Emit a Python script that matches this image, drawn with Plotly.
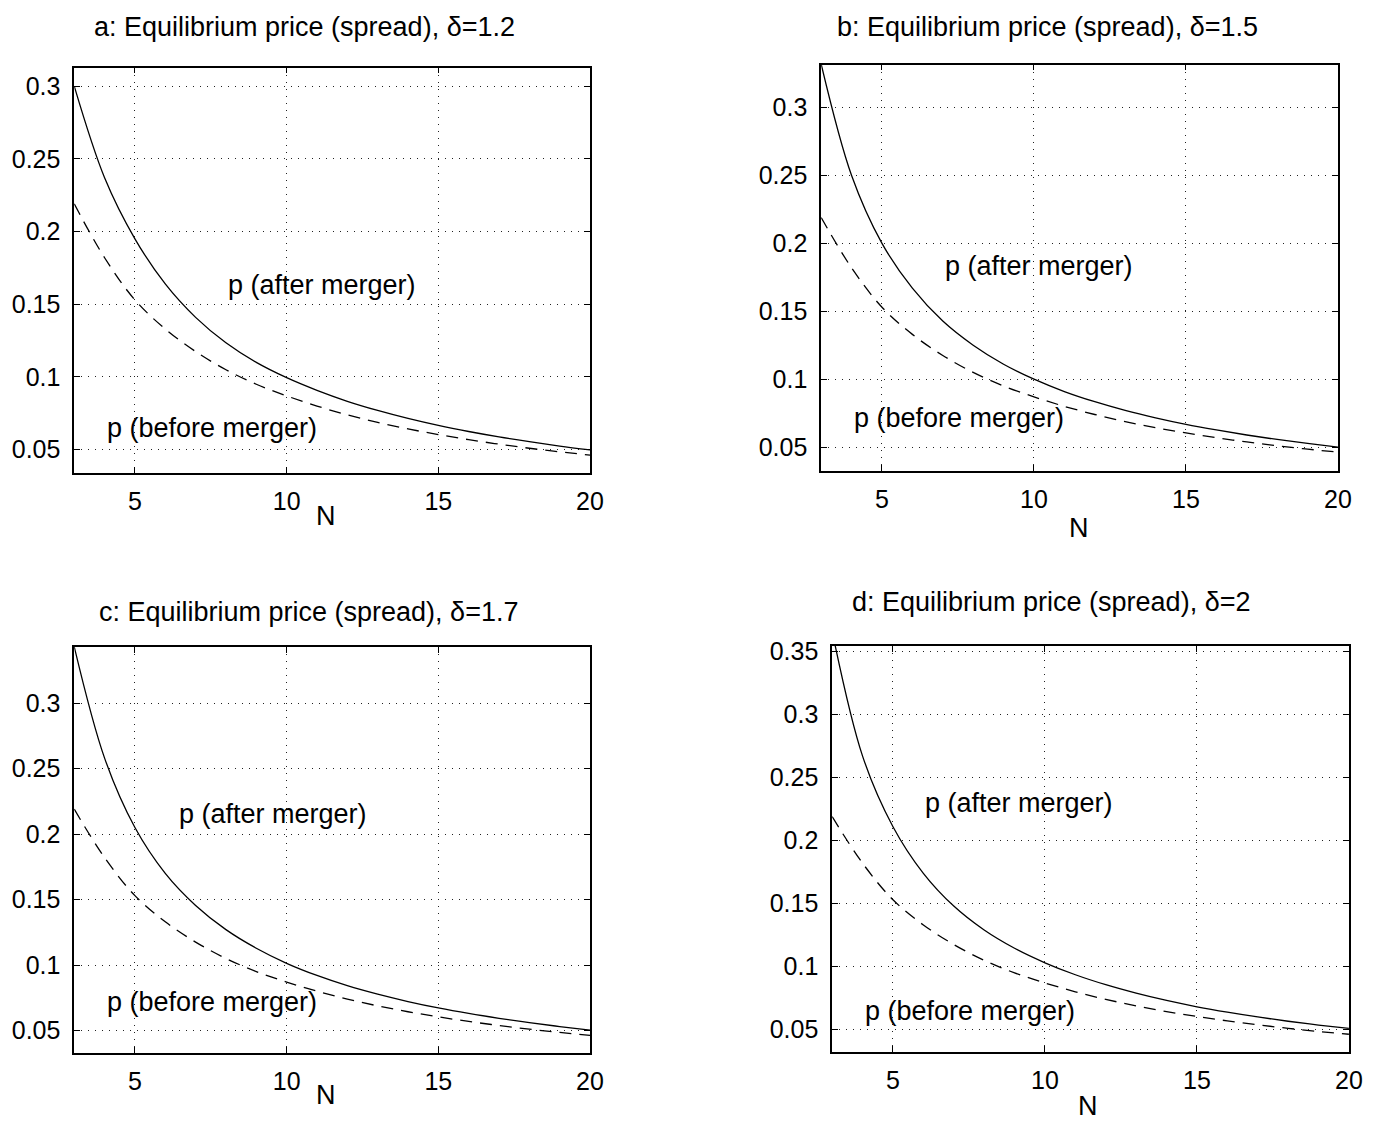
import plotly.graph_objects as go

# ---- data ----
N = [3, 4, 5, 6, 7, 8, 9, 10, 11, 12, 13, 14, 15, 16, 17, 18, 19, 20]

p_before = [0.219, 0.182, 0.153, 0.133, 0.1175, 0.105, 0.095, 0.087, 0.0800,
            0.0740, 0.0688, 0.0643, 0.0604, 0.0569, 0.0538, 0.0510, 0.0485, 0.0463]

p_after_a = [0.300, 0.237, 0.195, 0.164, 0.141, 0.1235, 0.110, 0.0995, 0.0908,
             0.0833, 0.0770, 0.0715, 0.0667, 0.0625, 0.0588, 0.0555, 0.0525, 0.0498]
p_after_b = [0.332, 0.250, 0.200, 0.167, 0.1428, 0.125, 0.111, 0.1000, 0.0909,
             0.0834, 0.0770, 0.0715, 0.0667, 0.0626, 0.0589, 0.0556, 0.0527, 0.0500]
p_after_c = [0.343, 0.258, 0.205, 0.170, 0.1455, 0.127, 0.1128, 0.1013, 0.0920,
             0.0842, 0.0777, 0.0721, 0.0672, 0.0630, 0.0593, 0.0560, 0.0530, 0.0503]
p_after_d = [0.366, 0.267, 0.211, 0.174, 0.148, 0.129, 0.1145, 0.1030, 0.0935,
             0.0856, 0.0789, 0.0731, 0.0681, 0.0638, 0.0600, 0.0566, 0.0536, 0.0509]

titles = ["a: Equilibrium price (spread), \u03b4=1.2",
          "b: Equilibrium price (spread), \u03b4=1.5",
          "c: Equilibrium price (spread), \u03b4=1.7",
          "d: Equilibrium price (spread), \u03b4=2"]

x_ticks = [5, 10, 15, 20]
x_tick_text = ["5", "10", "15", "20"]
y_ticks_abc = [0.05, 0.1, 0.15, 0.2, 0.25, 0.3]
y_tick_text_abc = ["0.05", "0.1", "0.15", "0.2", "0.25", "0.3"]
y_ticks_d = [0.05, 0.1, 0.15, 0.2, 0.25, 0.3, 0.35]
y_tick_text_d = ["0.05", "0.1", "0.15", "0.2", "0.25", "0.3", "0.35"]

label_after = "p (after merger)"
label_before = "p (before merger)"

# ---- layout geometry (pixels) ----
W, H = 1397, 1122
FONT = "Liberation Sans, Arial, Helvetica, sans-serif"
FS_TXT = 27
FS_TICK = 25

panels = [
    dict(after=p_after_a, box=(75, 596, 59, 468), yr=(0.0338, 0.3128),
         yt=y_ticks_abc, ytt=y_tick_text_abc, title_xy=(308, 18), n_xy=(329, 511),
         a_xy=(8, 0.163), b_xy=(4, 0.065)),
    dict(after=p_after_b, box=(829.5, 1351.5, 56, 466), yr=(0.0322, 0.3317),
         yt=y_ticks_abc, ytt=y_tick_text_abc, title_xy=(1058, 18), n_xy=(1090, 523),
         a_xy=(7, 0.183), b_xy=(4, 0.0717)),
    dict(after=p_after_c, box=(75, 596, 643, 1052.7), yr=(0.0326, 0.343),
         yt=y_ticks_abc, ytt=y_tick_text_abc, title_xy=(312, 608), n_xy=(329, 1095),
         a_xy=(6.38, 0.215), b_xy=(4, 0.0717)),
    dict(after=p_after_d, box=(840.6, 1362.6, 642, 1051.7), yr=(0.032, 0.3545),
         yt=y_ticks_d, ytt=y_tick_text_d, title_xy=(1062, 598), n_xy=(1099, 1106),
         a_xy=(6, 0.23), b_xy=(4, 0.0645)),
]

fig = go.Figure()
annotations = []
layout = {}

for i, p in enumerate(panels):
    k = "" if i == 0 else str(i + 1)
    xref, yref = "x" + k, "y" + k
    x0, x1, y0, y1 = p["box"]
    fig.add_trace(go.Scatter(x=N, y=p["after"], mode="lines", xaxis=xref, yaxis=yref,
                             line=dict(color="black", width=1.3, shape="spline"),
                             showlegend=False, hoverinfo="skip"))
    fig.add_trace(go.Scatter(x=N, y=p_before, mode="lines", xaxis=xref, yaxis=yref,
                             line=dict(color="black", width=1.3, dash="12px,8px", shape="spline"),
                             showlegend=False, hoverinfo="skip"))
    common = dict(showline=True, linecolor="black", linewidth=1.6, mirror="ticks",
                  ticks="inside", ticklen=6, tickcolor="black", tickwidth=1.2,
                  showgrid=True, gridcolor="#222222", gridwidth=1, griddash="1px,6px",
                  zeroline=False, tickfont=dict(family=FONT, size=FS_TICK, color="black"))
    layout["xaxis" + k] = dict(common, domain=[x0 / W, x1 / W], range=[3, 20],
                               tickvals=x_ticks, ticktext=x_tick_text, anchor=yref,
                               ticklabelstandoff=5)
    layout["yaxis" + k] = dict(common, domain=[1 - y1 / H, 1 - y0 / H], range=list(p["yr"]),
                               tickvals=p["yt"], ticktext=p["ytt"], anchor=xref,
                               ticklabelstandoff=7)
    tx, ty = p["title_xy"]
    annotations.append(dict(text=titles[i], x=tx / W, y=1 - ty / H, xref="paper", yref="paper",
                            xanchor="center", yanchor="middle", showarrow=False,
                            font=dict(family=FONT, size=FS_TXT, color="black")))
    nx, ny = p["n_xy"]
    annotations.append(dict(text="N", x=nx / W, y=1 - ny / H, xref="paper", yref="paper",
                            xanchor="center", yanchor="middle", showarrow=False,
                            font=dict(family=FONT, size=FS_TXT, color="black")))
    ax, ay = p["a_xy"]
    annotations.append(dict(text=label_after, x=ax, y=ay, xref=xref, yref=yref,
                            xanchor="left", yanchor="middle", showarrow=False,
                            font=dict(family=FONT, size=FS_TXT, color="black")))
    bx, by = p["b_xy"]
    annotations.append(dict(text=label_before, x=bx, y=by, xref=xref, yref=yref,
                            xanchor="left", yanchor="middle", showarrow=False,
                            font=dict(family=FONT, size=FS_TXT, color="black")))

fig.update_layout(width=W, height=H, margin=dict(l=0, r=0, t=0, b=0),
                  paper_bgcolor="white", plot_bgcolor="white",
                  annotations=annotations, **layout)

fig.write_html("out.html", config={"displayModeBar": False},
               post_script="document.body.style.margin='0px';"
                           "document.documentElement.style.overflow='hidden';")
